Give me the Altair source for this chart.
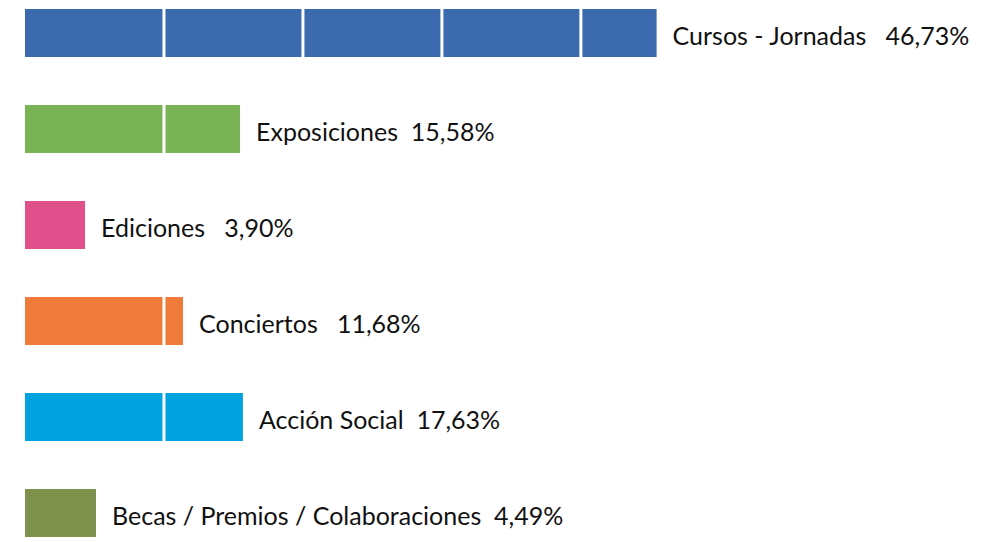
import altair as alt
import pandas as pd

categories = ["Cursos - Jornadas", "Exposiciones", "Ediciones", "Conciertos",
              "Acción Social", "Becas / Premios / Colaboraciones"]
percent_labels = ["46,73%", "15,58%", "3,90%", "11,68%", "17,63%", "4,49%"]
gaps = [3, 2, 3, 3, 2, 2]  # spaces between name and percentage
# bar lengths (in gridline units: 10 per gridline)
bar_values = [45.45, 15.47, 4.32, 11.37, 15.68, 5.11]
colors = ["#3C6AAE", "#7AB356", "#E0508A", "#EE7B3A", "#00A3E0", "#7E924E"]
grid_values = [10, 20, 30, 40, 50, 60]

labels = [c + "\u00a0" * g + p for c, g, p in zip(categories, gaps, percent_labels)]

df = pd.DataFrame({
    "cat": categories,
    "val": bar_values,
    "label": labels,
    "color": colors,
})
grid_df = pd.DataFrame({"g": grid_values})

xscale = alt.Scale(domain=[0, 68], nice=False, zero=True)
y = alt.Y("cat:N", sort=categories, axis=None,
          scale=alt.Scale(paddingInner=0.5, paddingOuter=0))

bars = alt.Chart(df).mark_bar().encode(
    x=alt.X("val:Q", scale=xscale, axis=None), y=y,
    color=alt.Color("color:N", scale=None),
)

grid = alt.Chart(grid_df).mark_rule(color="white", strokeWidth=3).encode(
    x=alt.X("g:Q", scale=xscale, axis=None),
)

text = alt.Chart(df).mark_text(
    align="left", baseline="alphabetic", dx=16, dy=12,
    font="Lato", fontSize=25, color="#111111",
).encode(
    x=alt.X("val:Q", scale=xscale), y=alt.Y("cat:N", sort=categories), text="label:N",
)

chart = alt.layer(bars, grid, text).properties(
    width=945, height=528,
    padding={"left": 17, "top": 1, "right": 0, "bottom": 0},
    autosize=alt.AutoSizeParams(type="none"),
).configure_view(stroke=None)

chart.save("out.html", embed_options={"renderer": "svg", "actions": False})
